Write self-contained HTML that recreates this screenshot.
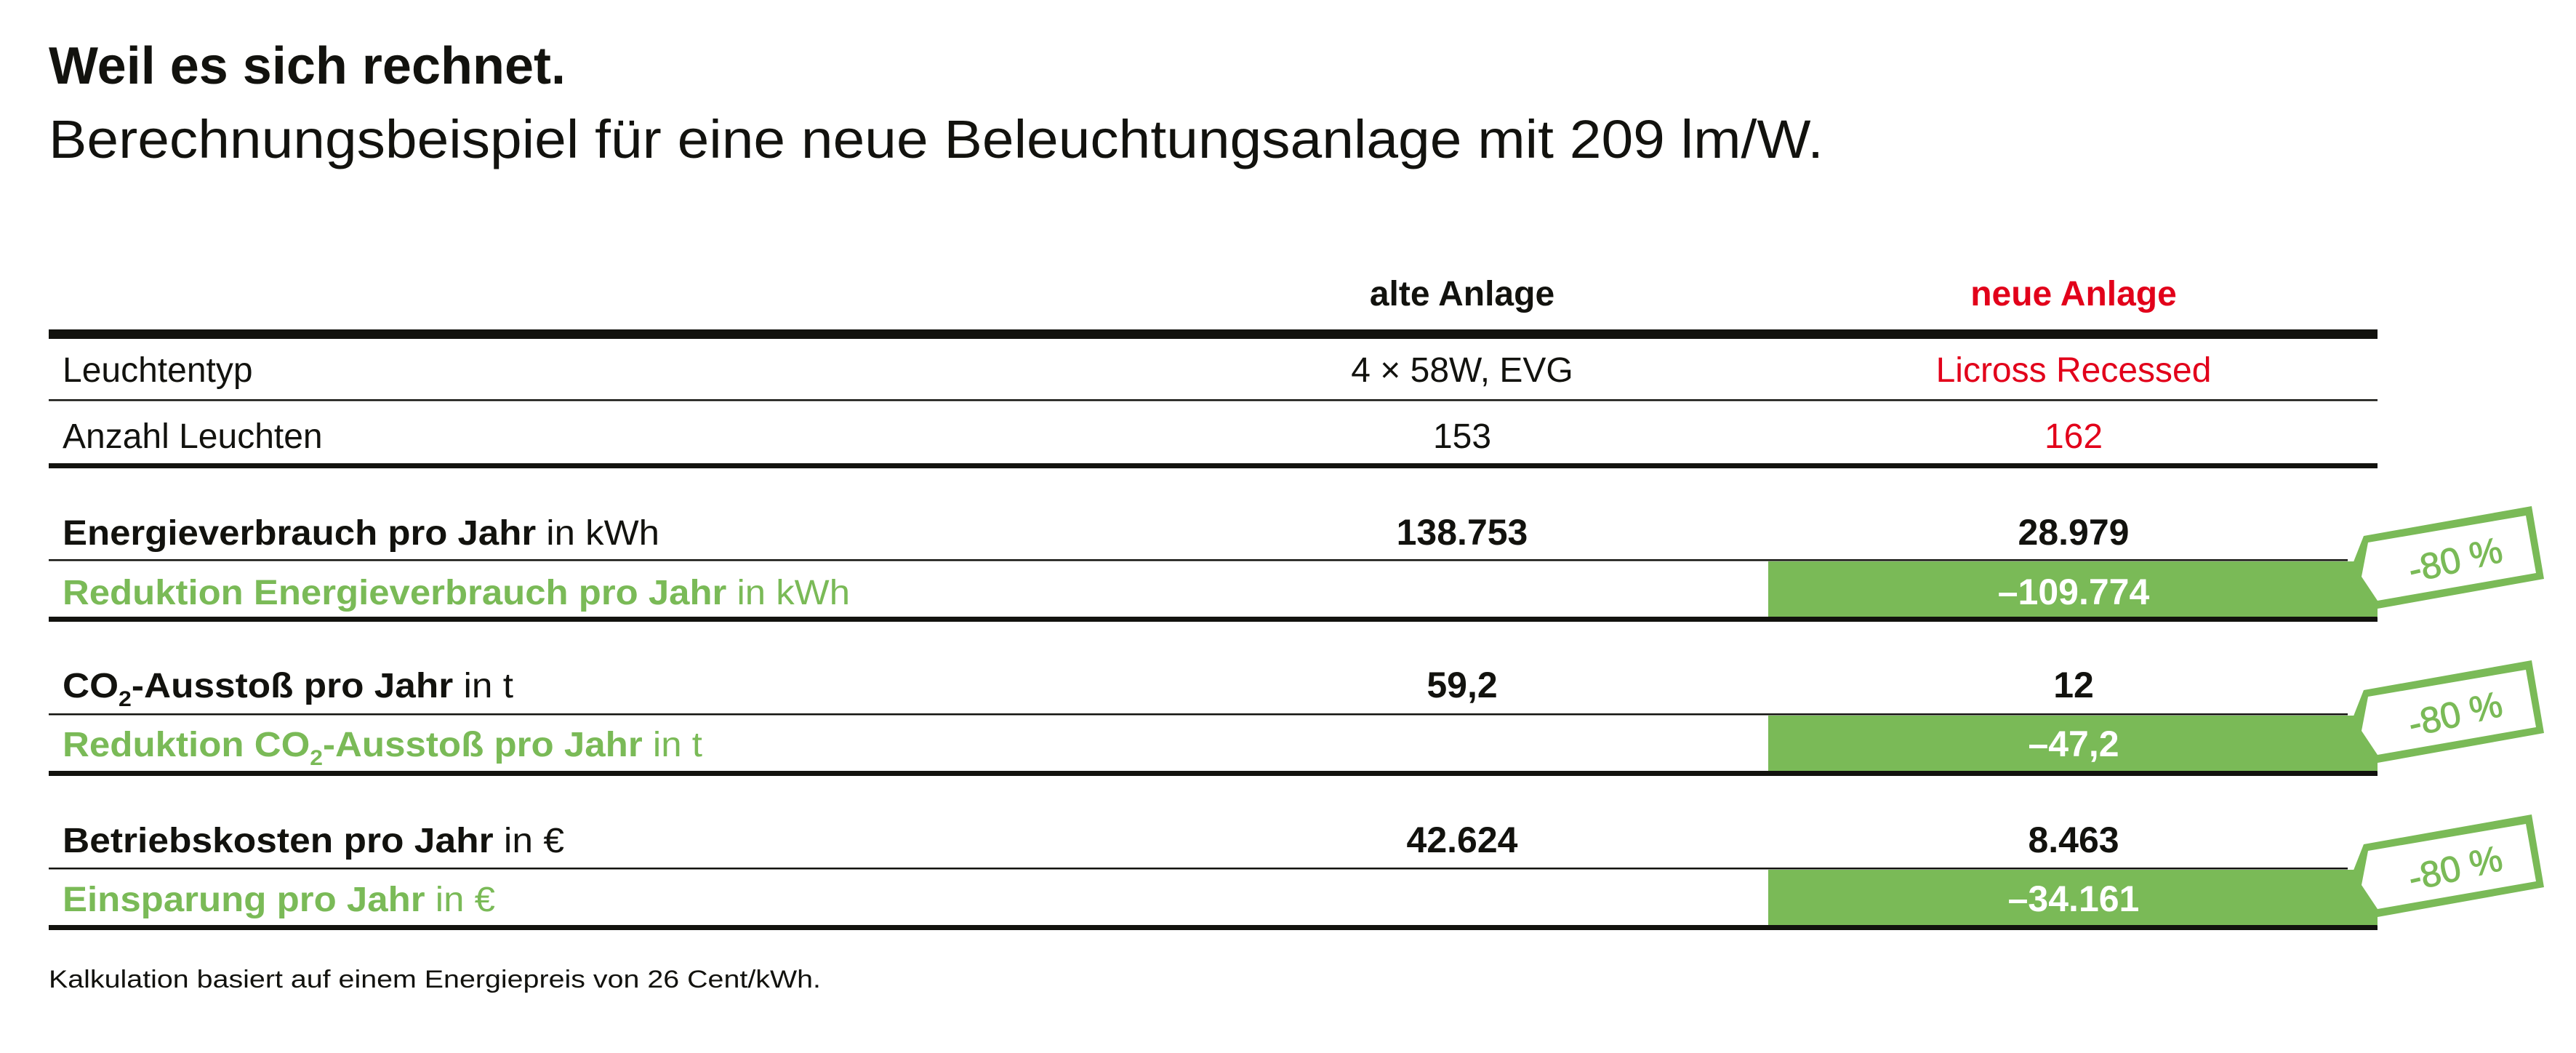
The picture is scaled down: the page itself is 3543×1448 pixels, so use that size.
<!DOCTYPE html>
<html><head><meta charset="utf-8"><style>html,body{margin:0;padding:0;background:#fff}svg{display:block}</style></head><body>
<svg width="3543" height="1448" viewBox="0 0 3543 1448" xmlns="http://www.w3.org/2000/svg" font-family="Liberation Sans, Arial, sans-serif">
<rect width="3543" height="1448" fill="#fff"/>
<text x="67" y="115" font-size="72" font-weight="bold" fill="#12120e">Weil es sich rechnet.</text>
<text x="67" y="217" font-size="74" fill="#12120e" textLength="2441" lengthAdjust="spacingAndGlyphs">Berechnungsbeispiel für eine neue Beleuchtungsanlage mit 209 lm/W.</text>

<g font-size="48" font-weight="bold" text-anchor="middle">
<text x="2011" y="420" fill="#12120e">alte Anlage</text>
<text x="2852" y="420" fill="#e2001a">neue Anlage</text>
</g>
<rect x="67" y="453" width="3203" height="13" fill="#12120e"/>

<g font-size="48" fill="#12120e">
<text x="86" y="525">Leuchtentyp</text>
<text x="86" y="616">Anzahl Leuchten</text>
<text x="2011" y="525" text-anchor="middle">4 × 58W, EVG</text>
<text x="2011" y="616" text-anchor="middle">153</text>
<text x="2852" y="525" text-anchor="middle" fill="#e2001a">Licross Recessed</text>
<text x="2852" y="616" text-anchor="middle" fill="#e2001a">162</text>
</g>
<rect x="67" y="549" width="3203" height="2.5" fill="#12120e"/>
<rect x="67" y="637" width="3203" height="7" fill="#12120e"/>

<g id="s1">
<rect x="2432" y="772" width="838" height="77" fill="#7aba57"/>
<rect x="67" y="769" width="3162" height="2.5" fill="#12120e"/>
<rect x="67" y="848" width="3203" height="7" fill="#12120e"/>
<polygon points="3251,737 3482,696 3499,796 3270,837 3270,849 3229,793" fill="#7aba57"/>
<polygon points="3257,746 3474,709 3488,788 3270,826 3248,793" fill="#fff"/>
<text x="3377" y="787" font-size="50" fill="#7aba57" stroke="#7aba57" stroke-width="1" text-anchor="middle" transform="rotate(-13 3377 770)">-80 %</text>
</g>
<use href="#s1" transform="translate(0,212)"/>
<use href="#s1" transform="translate(0,424)"/>

<g font-size="48">
<text x="86" y="749" fill="#12120e" textLength="821" lengthAdjust="spacingAndGlyphs"><tspan font-weight="bold">Energieverbrauch pro Jahr</tspan> in kWh</text>
<text x="86" y="831" fill="#7aba57" textLength="1083" lengthAdjust="spacingAndGlyphs"><tspan font-weight="bold">Reduktion Energieverbrauch pro Jahr</tspan> in kWh</text>
<text x="86" y="959" fill="#12120e" textLength="620" lengthAdjust="spacingAndGlyphs"><tspan font-weight="bold">CO<tspan font-size="30" dy="12">2</tspan><tspan dy="-12">-Ausstoß pro Jahr</tspan></tspan> in t</text>
<text x="86" y="1040" fill="#7aba57" textLength="880" lengthAdjust="spacingAndGlyphs"><tspan font-weight="bold">Reduktion CO<tspan font-size="30" dy="12">2</tspan><tspan dy="-12">-Ausstoß pro Jahr</tspan></tspan> in t</text>
<text x="86" y="1172" fill="#12120e" textLength="690" lengthAdjust="spacingAndGlyphs"><tspan font-weight="bold">Betriebskosten pro Jahr</tspan> in €</text>
<text x="86" y="1253" fill="#7aba57" textLength="595" lengthAdjust="spacingAndGlyphs"><tspan font-weight="bold">Einsparung pro Jahr</tspan> in €</text>
</g>

<g font-size="50" font-weight="bold" text-anchor="middle">
<text x="2011" y="749" fill="#12120e">138.753</text>
<text x="2852" y="749" fill="#12120e">28.979</text>
<text x="2852" y="831" fill="#fff">–109.774</text>
<text x="2011" y="959" fill="#12120e">59,2</text>
<text x="2852" y="959" fill="#12120e">12</text>
<text x="2852" y="1040" fill="#fff">–47,2</text>
<text x="2011" y="1172" fill="#12120e">42.624</text>
<text x="2852" y="1172" fill="#12120e">8.463</text>
<text x="2852" y="1253" fill="#fff">–34.161</text>
</g>

<text x="67" y="1358" font-size="34" fill="#12120e" textLength="1062" lengthAdjust="spacingAndGlyphs">Kalkulation basiert auf einem Energiepreis von 26 Cent/kWh.</text>
</svg>
</body></html>
